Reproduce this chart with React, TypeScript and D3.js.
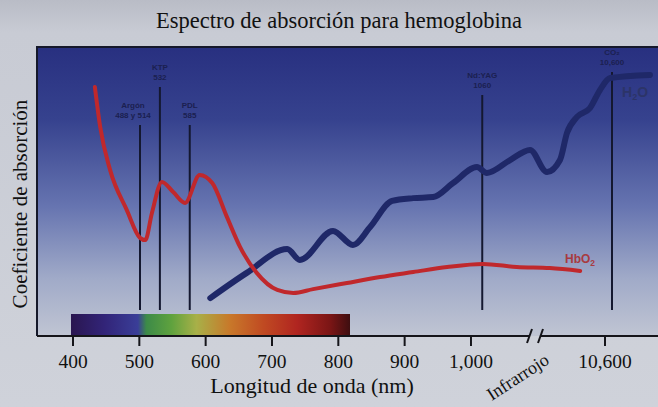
import React from 'react';
import * as d3 from 'd3';

// ---- data (schematic axis, nm with a break after 1000) ----
const xTicks = [400, 500, 600, 700, 800, 900, 1000, 10600];
const xTickLabels = ['400', '500', '600', '700', '800', '900', '1,000', '10,600'];

// HbO2 (red)
const hbNm = [433, 441, 456, 481, 501, 509, 519, 534, 551, 569, 591, 610, 632, 652, 677, 708, 732, 762, 813, 863, 913, 964, 1018, 1069, 3300, 8600];
const hbCoef = [86.8, 72.5, 57.1, 42.9, 32.9, 32.1, 41.8, 52.9, 49.3, 45.4, 55.4, 52.5, 40.4, 29.6, 20.4, 14.3, 13.2, 14.6, 16.8, 18.9, 20.7, 22.5, 23.6, 22.5, 22.1, 21.1];

// H2O (blue)
const waterNm = [607, 662, 723, 742, 792, 822, 848, 881, 913, 943, 973, 1009, 1024, 1059, 1089, 2800, 5070, 6300, 8050, 10330, 10564, 10636, 10921];
const waterCoef = [11.4, 20.4, 28.9, 25.0, 35.4, 30.4, 36.8, 46.1, 47.1, 47.5, 52.5, 58.2, 56.1, 60.7, 64.3, 56.4, 60.7, 70.4, 76.1, 79.3, 85.7, 90.0, 91.1];

// laser lines
const laserNames = ['Argón', 'KTP', 'PDL', 'Nd:YAG', 'CO₂'];
const laserWaves = ['488 y 514', '532', '585', '1060', '10,600'];
const laserNm = [501, 531, 576, 1017, 10650];

const W = 658;
const H = 407;

const App: React.FC = () => {
  // piecewise scale: linear 400-1100, compressed break, then IR segment
  const x = d3.scaleLinear()
    .domain([400, 1100, 10500, 10700])
    .range([73, 537.3, 591, 619]);
  const y = d3.scaleLinear().domain([0, 100]).range([330, 50]);

  const axisY = 336;
  const panelLeft = 37;
  const panelTop = 47;

  const line = d3.line<[number, number]>()
    .x(d => x(d[0]))
    .y(d => y(d[1]))
    .curve(d3.curveMonotoneX);

  const hbPath = line(hbNm.map((n, i) => [n, hbCoef[i]] as [number, number])) || '';
  const waterPath = line(waterNm.map((n, i) => [n, waterCoef[i]] as [number, number])) || '';

  // label placement (px) for each laser line
  const labelTop = [105, 67, 105, 75, 52];

  const serif = "'Liberation Serif', 'DejaVu Serif', serif";
  const sans = "'Liberation Sans', Arial, sans-serif";

  return (
    <svg width={W} height={H} style={{ position: 'absolute', left: 0, top: 0 }}>
      <defs>
        <linearGradient id="panel" x1="0" y1="0" x2="0" y2="1">
          <stop offset="0" stopColor="#283080" />
          <stop offset="0.25" stopColor="#36428e" />
          <stop offset="0.55" stopColor="#6674b0" />
          <stop offset="0.8" stopColor="#a0aac8" />
          <stop offset="1" stopColor="#c0c5d3" />
        </linearGradient>
        <linearGradient id="page" x1="0" y1="0" x2="0" y2="1">
          <stop offset="0" stopColor="#b9bcc6" />
          <stop offset="0.08" stopColor="#c8cbd4" />
          <stop offset="1" stopColor="#cfd2da" />
        </linearGradient>
        <linearGradient id="spectrum" x1="0" y1="0" x2="1" y2="0">
          <stop offset="0" stopColor="#2a1650" />
          <stop offset="0.12" stopColor="#322478" />
          <stop offset="0.24" stopColor="#3a3e98" />
          <stop offset="0.27" stopColor="#3c8a48" />
          <stop offset="0.36" stopColor="#5fa23e" />
          <stop offset="0.45" stopColor="#a8b048" />
          <stop offset="0.57" stopColor="#c8782a" />
          <stop offset="0.69" stopColor="#c04a22" />
          <stop offset="0.81" stopColor="#b02520" />
          <stop offset="0.93" stopColor="#7a1515" />
          <stop offset="1" stopColor="#3e0e10" />
        </linearGradient>
      </defs>

      <rect x={0} y={0} width={W} height={H} fill="url(#page)" />

      {/* title */}
      <text x={339} y={28} textAnchor="middle" fontFamily={serif} fontSize={22.5} fill="#111">
        Espectro de absorción para hemoglobina
      </text>

      {/* panel */}
      <rect x={panelLeft} y={panelTop} width={W - panelLeft + 5} height={axisY - panelTop} fill="url(#panel)" />
      <path d={`M${panelLeft},${axisY} V${panelTop} H${W}`} fill="none" stroke="#15182a" strokeWidth={2} />

      {/* spectrum bar */}
      <rect x={71} y={314} width={279} height={axisY - 314} fill="url(#spectrum)" />

      {/* laser lines */}
      {laserNm.map((n, i) => (
        <g key={laserNames[i]}>
          <line x1={x(n)} x2={x(n)} y1={labelTop[i] + 20} y2={310} stroke="#141830" strokeWidth={2} />
          <text x={i === 0 ? x(n) - 7 : x(n)} y={labelTop[i] + 3} textAnchor="middle" fontFamily={sans}
            fontWeight="bold" fontSize={8} fill="#1b2050">{laserNames[i]}</text>
          <text x={i === 0 ? x(n) - 7 : x(n)} y={labelTop[i] + 13} textAnchor="middle" fontFamily={sans}
            fontWeight="bold" fontSize={8} fill="#1b2050">{laserWaves[i]}</text>
        </g>
      ))}

      {/* curves */}
      <path d={waterPath} fill="none" stroke="#1f2868" strokeWidth={6} strokeLinecap="round" strokeLinejoin="round" />
      <path d={hbPath} fill="none" stroke="#c0282c" strokeWidth={4} strokeLinecap="round" strokeLinejoin="round" />

      {/* series labels */}
      <text x={565} y={263} fontFamily={sans} fontWeight="bold" fontSize={12} fill="#a83a40">
        HbO<tspan fontSize={8.5} dy={3}>2</tspan>
      </text>
      <text x={622} y={97} fontFamily={sans} fontWeight="bold" fontSize={14} fill="#2c3468">
        H<tspan fontSize={9} dy={3}>2</tspan><tspan dy={-3}>O</tspan>
      </text>

      {/* x axis with break */}
      <line x1={panelLeft} x2={530} y1={axisY} y2={axisY} stroke="#15151a" strokeWidth={2} />
      <line x1={541} x2={W} y1={axisY} y2={axisY} stroke="#15151a" strokeWidth={2} />
      <line x1={527} x2={532} y1={343} y2={329} stroke="#15151a" strokeWidth={2} />
      <line x1={538} x2={543} y1={343} y2={329} stroke="#15151a" strokeWidth={2} />
      {xTicks.map((t, i) => (
        <g key={t}>
          <line x1={x(t)} x2={x(t)} y1={axisY} y2={346} stroke="#15151a" strokeWidth={2} />
          <text x={x(t)} y={368} textAnchor="middle" fontFamily={serif} fontSize={19.5} fill="#111">
            {xTickLabels[i]}
          </text>
        </g>
      ))}
      <text x={312} y={393} textAnchor="middle" fontFamily={serif} fontSize={22} fill="#111">
        Longitud de onda (nm)
      </text>
      <text transform="translate(521,382) rotate(-33)" textAnchor="middle" fontFamily={serif} fontSize={18} fill="#111">
        Infrarrojo
      </text>

      {/* y axis label */}
      <text transform="translate(27,204) rotate(-90)" textAnchor="middle" fontFamily={serif} fontSize={21} fill="#111">
        Coeficiente de absorción
      </text>
    </svg>
  );
};

export default App;
